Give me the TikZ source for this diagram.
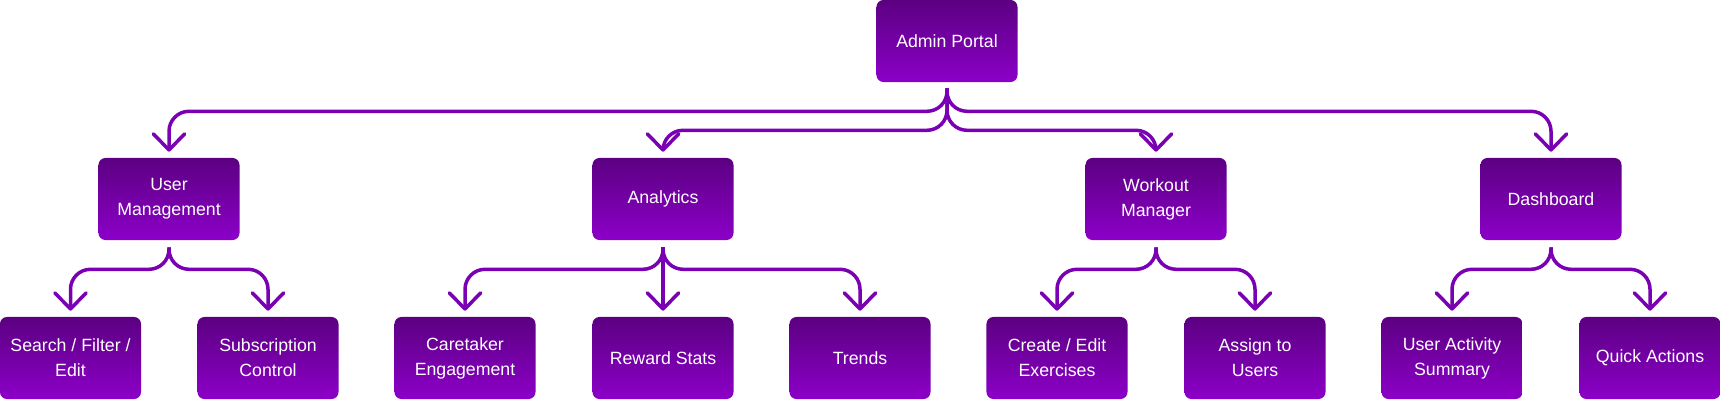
\documentclass[tikz,border=0pt]{standalone}
\usepackage{fontspec}
\setmainfont{Liberation Sans}
\usetikzlibrary{arrows.meta,positioning}
\definecolor{plumtop}{RGB}{92,0,130}
\definecolor{plumbot}{RGB}{140,0,200}
\definecolor{wire}{RGB}{122,0,180}

\begin{document}
\begin{tikzpicture}[x=0.025cm,y=-0.025cm,
  card/.style={rectangle,rounded corners=0.175cm,top color=plumtop,bottom color=plumbot,
    text=white,align=center,minimum width=3.525cm,minimum height=2.05cm,inner sep=0pt,
    font=\fontsize{12.6}{17.7}\selectfont},
  link/.style={wire,line width=0.0875cm,rounded corners=0.5cm,
    -{Straight Barb[length=0.4cm,width=0.78cm,round]}}]
  \useasboundingbox (0,0) rectangle (1720,400);
  % top
  \node[card] (admin) at (947,41) {Admin Portal};
  % sections
  \node[card] (users)     at (169,199)  {User\\Management};
  \node[card] (analytics) at (663,199)  {Analytics};
  \node[card] (workout)   at (1156,199) {Workout\\Manager};
  \node[card] (dash)      at (1551,199) {Dashboard};
  % leaves
  \node[card] (search)    at (70.5,358) {Search / Filter /\\Edit};
  \node[card] (subs)      at (268,358)  {Subscription\\Control};
  \node[card] (caretaker) at (465,358)  {Caretaker\\Engagement};
  \node[card] (reward)    at (663,358)  {Reward Stats};
  \node[card] (trends)    at (860,358)  {Trends};
  \node[card] (create)    at (1057,358) {Create / Edit\\Exercises};
  \node[card] (assign)    at (1255,358) {Assign to\\Users};
  \node[card] (activity)  at (1452,358) {User Activity\\Summary};
  \node[card] (quick)     at (1650,358) {Quick Actions};
  % admin -> sections, outer pair on the upper rail
  \foreach \b/\d in {users/23,dash/23,analytics/42,workout/42}
    \draw[link] ([yshift=-0.15cm]admin.south) -- ++(0,\d) -| ([yshift=0.15cm]\b.north);
  % sections -> leaves
  \foreach \a/\b in {users/search,users/subs,analytics/caretaker,analytics/trends,
                     workout/create,workout/assign,dash/activity,dash/quick}
    \draw[link] ([yshift=-0.175cm]\a.south) -- ++(0,22) -| ([yshift=0.15cm]\b.north);
  \draw[link] ([yshift=-0.175cm]analytics.south) -- ([yshift=0.15cm]reward.north);
\end{tikzpicture}
\end{document}
